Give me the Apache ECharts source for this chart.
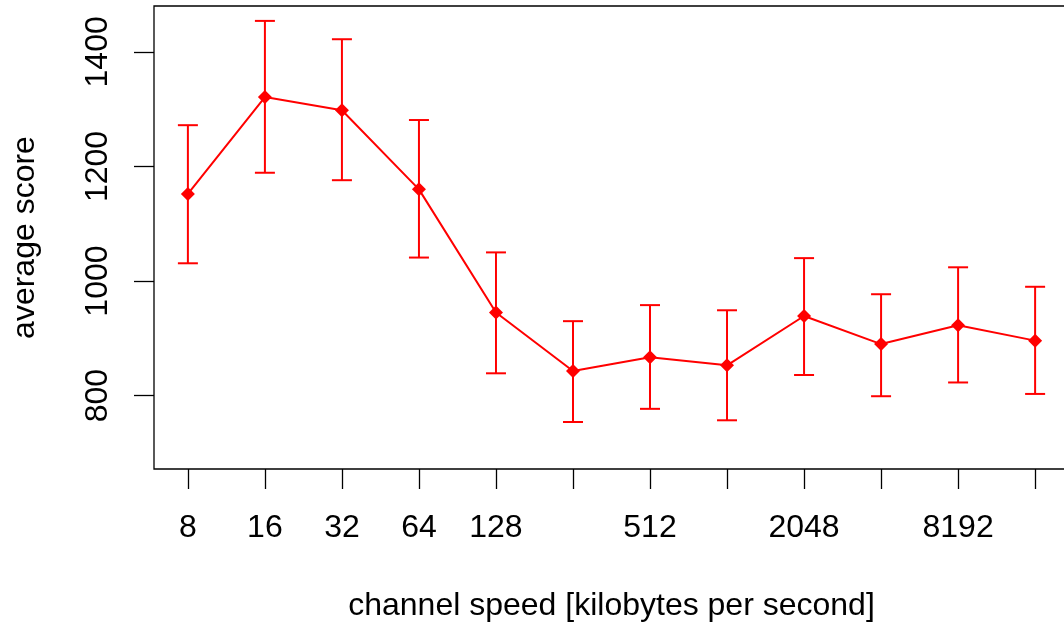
<!DOCTYPE html>
<html>
<head>
<meta charset="utf-8">
<script src="https://cdn.jsdelivr.net/npm/echarts@6/dist/echarts.min.js"></script>
<style>html,body{margin:0;padding:0;background:#fff;}#c{width:1064px;height:626px;}</style>
</head>
<body>
<div id="c"></div>
<script>
const categories = ["8","16","32","64","128","256","512","1024","2048","4096","8192","16384"];
const tickLabels = ["8","16","32","64","128","","512","","2048","","8192",""];
const yTicks = [800, 1000, 1200, 1400];
const means = [1152, 1321, 1298, 1160, 945, 843, 867, 853, 939, 890, 923, 896];
const upper = [1272, 1454, 1422, 1281, 1050, 930, 958, 949, 1040, 977, 1024, 990];
const lower = [1031, 1189, 1176, 1041, 839, 754, 777, 757, 836, 799, 823, 803];

const xPos = categories.map((c, i) => i + 1);
const font = 'Liberation Sans, Arial, Helvetica, sans-serif';
const fs = 32;
const chart = echarts.init(document.getElementById('c'), null, {renderer: 'canvas'});
chart.setOption({
  animation: false,
  backgroundColor: '#fff',
  grid: {left: 154, top: 6, right: -5, bottom: 157, show: true, borderColor: '#000', borderWidth: 1.3,
         containLabel: false, outerBoundsMode: 'none'},
  xAxis: {
    type: 'value', min: 0.56, max: 12.44,
    name: 'channel speed [kilobytes per second]', nameLocation: 'middle', nameGap: 121,
    nameTextStyle: {fontFamily: font, fontSize: fs, color: '#000'},
    axisLine: {show: false},
    splitLine: {show: false},
    axisTick: {show: true, length: 20, lineStyle: {color: '#000', width: 1.3}, customValues: xPos},
    axisLabel: {show: true, margin: 43, fontFamily: font, fontSize: fs, color: '#000', customValues: xPos,
      formatter: v => tickLabels[Math.round(v) - 1] || ''}
  },
  yAxis: {
    type: 'value', min: 672, max: 1480,
    name: 'average score', nameLocation: 'middle', nameGap: 113, nameRotate: 90,
    nameTextStyle: {fontFamily: font, fontSize: fs, color: '#000'},
    axisLine: {show: false},
    splitLine: {show: false},
    axisTick: {show: true, length: 20, lineStyle: {color: '#000', width: 1.3}, customValues: yTicks},
    axisLabel: {show: true, rotate: 90, margin: 40, fontFamily: font, fontSize: fs, color: '#000', customValues: yTicks,
      formatter: v => String(v)}
  },
  series: [
    {
      type: 'custom',
      data: xPos.map((x, i) => [x, lower[i], upper[i]]),
      renderItem: function (params, api) {
        const x = api.value(0);
        const lo = api.coord([x, api.value(1)]);
        const hi = api.coord([x, api.value(2)]);
        const hw = 10;
        const style = {stroke: '#ff0000', lineWidth: 2, fill: null};
        return {
          type: 'group',
          children: [
            {type: 'line', shape: {x1: lo[0], y1: lo[1], x2: hi[0], y2: hi[1]}, style: style},
            {type: 'line', shape: {x1: hi[0] - hw, y1: hi[1], x2: hi[0] + hw, y2: hi[1]}, style: style},
            {type: 'line', shape: {x1: lo[0] - hw, y1: lo[1], x2: lo[0] + hw, y2: lo[1]}, style: style}
          ]
        };
      },
      z: 2
    },
    {
      type: 'line',
      data: xPos.map((x, i) => [x, means[i]]),
      symbol: 'diamond', symbolSize: [14, 14],
      itemStyle: {color: '#ff0000'},
      lineStyle: {color: '#ff0000', width: 2},
      z: 3
    }
  ]
});
</script>
</body>
</html>
